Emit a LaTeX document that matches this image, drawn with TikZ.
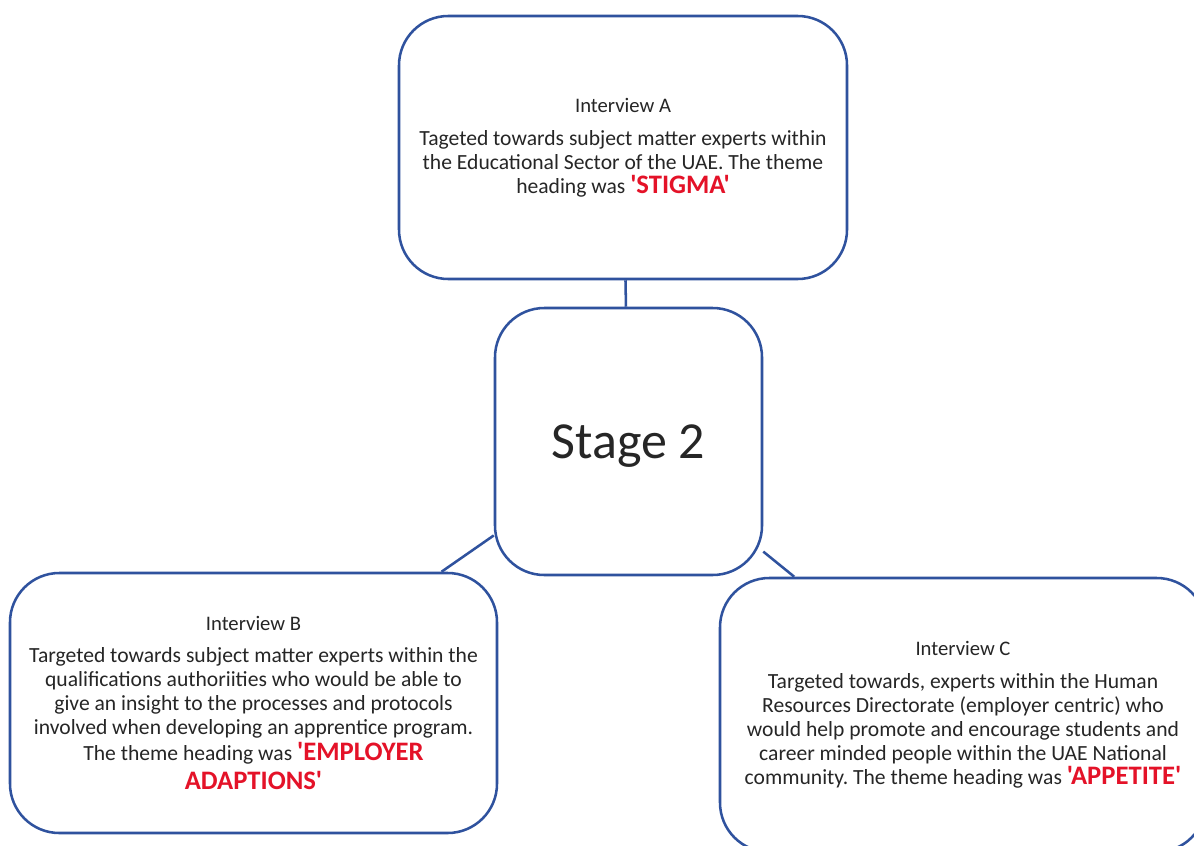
\documentclass[tikz,border=0pt]{standalone}
\usepackage{fontspec}
\setmainfont{Carlito}[Ligatures=TeXOff]
\frenchspacing
\definecolor{edge}{RGB}{47,82,158}
\definecolor{theme}{RGB}{228,18,40}
\definecolor{ink}{RGB}{38,38,38}
\newcommand{\ivtitle}[1]{{\fontsize{15.5}{18}\selectfont #1}}
\newcommand{\themeword}[1]{{\color{theme}\bfseries\fontsize{20}{22}\selectfont #1}}
\tikzset{
  card/.style={draw=edge, line width=1.9pt, rounded corners=37pt, fill=white,
    align=center, text=ink, font=\fontsize{16.2}{18}\selectfont, inner sep=0pt},
  link/.style={draw=edge, line width=1.9pt}
}
\begin{document}
\begin{tikzpicture}[x=0.75pt, y=-0.75pt]
\useasboundingbox (0,0) rectangle (1194,845);
\clip (0,0) rectangle (1194,845);
\fill[white] (0,0) rectangle (1194,845);

\coordinate (cA) at (623,147.5);
\coordinate (cS) at (628.5,441.5);
\coordinate (cB) at (253.5,703);
\coordinate (cC) at (963,715);

\node[card, minimum width=336pt, minimum height=197.25pt] (A) at (cA) {%
\ivtitle{Interview A}\\[7pt]
Tageted towards subject matter experts within\\
the Educational Sector of the UAE. The theme\\
heading was \themeword{'STIGMA'}};

% baseline of the large label sits a little below the card's centre
\node[card, minimum width=200.25pt, minimum height=200.25pt] (S) at (cS)
  {\raisebox{-12.4pt}[0pt][0pt]{\fontsize{39}{44}\selectfont Stage 2}};

\node[card, minimum width=365.25pt, minimum height=195pt] (B) at (cB) {%
\ivtitle{Interview B}\\[6pt]
Targeted towards subject matter experts within the\\
qualifications authoriities who would be able to\\
give an insight to the processes and protocols\\
involved when developing an apprentice program.\\[1pt]
The theme heading was \themeword{'EMPLOYER}\\[4pt]
\themeword{ADAPTIONS'}};

\node[card, minimum width=364.5pt, minimum height=205.5pt] (C) at (cC) {%
\ivtitle{Interview C}\\[7pt]
Targeted towards, experts within the Human\\
Resources Directorate (employer centric) who\\
would help promote and encourage students and\\
career minded people within the UAE National\\
community. The theme heading was \themeword{'APPETITE'}};

\draw[link] (A) -- (S);
\draw[link] (B) -- (S);
\draw[link] (C) -- (S);
\end{tikzpicture}
\end{document}
